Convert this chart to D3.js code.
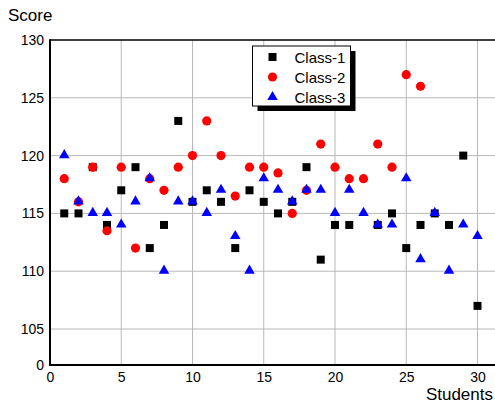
<!DOCTYPE html>
<html>
<head>
<meta charset="utf-8">
<script src="https://cdn.jsdelivr.net/npm/d3@7"></script>
<style>
  html, body { margin: 0; padding: 0; background: #fff; }
  svg { display: block; font-family: Arial, "Liberation Sans", sans-serif; }
</style>
</head>
<body>
<svg id="chart" width="495" height="405"></svg>
<script>
// ---- data ----
const students = d3.range(1, 31);
const class1 = [115, 115, 119, 114, 117, 119, 112, 114, 123, 116,
                117, 116, 112, 117, 116, 115, 116, 119, 111, 114,
                114, null, 114, 115, 112, 114, 115, 114, 120, 107];
const class2 = [118, 116, 119, 113.5, 119, 112, 118, 117, 119, 120,
                123, 120, 116.5, 119, 119, 118.5, 115, 117, 121, 119,
                118, 118, 121, 119, 127, 126, null, null, null, null];
const class3 = [120, 116, 115, 115, 114, 116, 118, 110, 116, 116,
                115, 117, 113, 110, 118, 117, 116, 117, 117, 115,
                117, 115, 114, 114, 118, 111, 115, 110, 114, 113];
const seriesNames = ["Class-1", "Class-2", "Class-3"];
const xTicks = [0, 5, 10, 15, 20, 25, 30];
const yTicks = [0, 105, 110, 115, 120, 125, 130];
const yGrid = [105, 110, 115, 120, 125];
const xGrid = [5, 10, 15, 20, 25, 30];

// ---- layout ----
const svg = d3.select("#chart");
const pL = 50, pR = 495, pT = 40, pB = 365;
const x = d3.scaleLinear().domain([0, 30]).range([pL, 477.5]);
const y = d3.scaleLinear().domain([0, 105, 130]).range([pB, 329, pT]);
const FONT = "Arial, 'Liberation Sans', sans-serif";

// grid
svg.append("g").selectAll("line").data(yGrid).join("line")
  .attr("x1", pL).attr("x2", pR)
  .attr("y1", d => y(d)).attr("y2", d => y(d))
  .attr("stroke", "#b8b8b8").attr("stroke-width", 1);
svg.append("g").selectAll("line").data(xGrid).join("line")
  .attr("x1", d => x(d)).attr("x2", d => x(d))
  .attr("y1", pT).attr("y2", pB)
  .attr("stroke", "#b8b8b8").attr("stroke-width", 1);

// top frame line
svg.append("line").attr("x1", pL).attr("x2", pR).attr("y1", pT).attr("y2", pT)
  .attr("stroke", "#000").attr("stroke-width", 1.5);

// axes
const xAxis = svg.append("g").attr("transform", `translate(0,${pB})`)
  .call(d3.axisBottom(x).tickValues(xTicks).tickSize(0).tickPadding(7).tickFormat(d3.format("d")));
xAxis.select(".domain").remove();
xAxis.selectAll("text").attr("font-size", 14).attr("fill", "#000").style("font-family", FONT);

const yAxis = svg.append("g").attr("transform", `translate(${pL},0)`)
  .call(d3.axisLeft(y).tickValues(yTicks).tickSize(0).tickPadding(6).tickFormat(d3.format("d")));
yAxis.select(".domain").remove();
yAxis.selectAll("text").attr("font-size", 14).attr("fill", "#000").style("font-family", FONT);

svg.append("line").attr("x1", pL).attr("x2", pR).attr("y1", pB).attr("y2", pB)
  .attr("stroke", "#000").attr("stroke-width", 2);
svg.append("line").attr("x1", pL).attr("x2", pL).attr("y1", pT - 0.75).attr("y2", pB + 1)
  .attr("stroke", "#000").attr("stroke-width", 2);

// titles
svg.append("text").attr("x", 8).attr("y", 21).attr("font-size", 17).style("font-family", FONT).text("Score");
svg.append("text").attr("x", 493).attr("y", 400).attr("font-size", 17).style("font-family", FONT)
  .attr("text-anchor", "end").text("Students");

// markers
const sq = d3.symbol().type(d3.symbolSquare).size(64);
const ci = d3.symbol().type(d3.symbolCircle).size(Math.PI * 4.6 * 4.6);
const tr = d3.symbol().type(d3.symbolTriangle).size(48);

function pts(vals) {
  return students.map((s, i) => ({ s, v: vals[i] })).filter(d => d.v != null);
}
svg.append("g").selectAll("path").data(pts(class1)).join("path")
  .attr("d", sq).attr("fill", "#000")
  .attr("transform", d => `translate(${x(d.s)},${y(d.v)})`);
svg.append("g").selectAll("path").data(pts(class2)).join("path")
  .attr("d", ci).attr("fill", "#ff0000")
  .attr("transform", d => `translate(${x(d.s)},${y(d.v)})`);
svg.append("g").selectAll("path").data(pts(class3)).join("path")
  .attr("d", tr).attr("fill", "#0000ff")
  .attr("transform", d => `translate(${x(d.s)},${y(d.v) - 0.5})`);

// legend
const lg = svg.append("g").attr("transform", "translate(252.5,46)");
const lw = 98, lh = 60;
lg.append("rect").attr("x", 5).attr("y", 5).attr("width", lw).attr("height", lh).attr("fill", "#000");
lg.append("rect").attr("x", 0).attr("y", 0).attr("width", lw).attr("height", lh)
  .attr("fill", "#fff").attr("stroke", "#000").attr("stroke-width", 1);
const legSyms = [
  { sym: sq, color: "#000" },
  { sym: ci, color: "#ff0000" },
  { sym: tr, color: "#0000ff" }
];
seriesNames.forEach((name, i) => {
  const yy = 11 + i * 20;
  lg.append("path").attr("d", legSyms[i].sym).attr("fill", legSyms[i].color)
    .attr("transform", `translate(20,${yy})`);
  lg.append("text").attr("x", 42).attr("y", yy + 5.5).attr("font-size", 15)
    .style("font-family", FONT).text(name);
});
</script>
</body>
</html>
